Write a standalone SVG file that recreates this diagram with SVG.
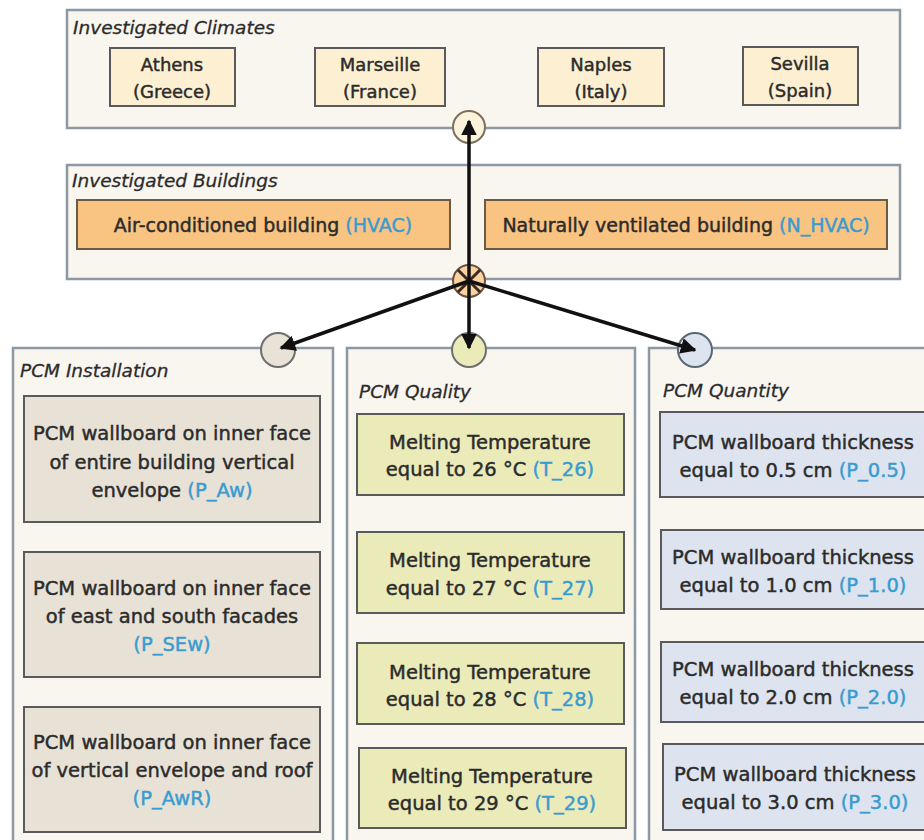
<svg xmlns="http://www.w3.org/2000/svg" width="924" height="840" viewBox="0 0 924 840">
<defs>
<style>
.panel{fill:#f9f5ef;stroke:#8c98a4;stroke-width:2.5}
.title{font-family:"DejaVu Sans","Liberation Sans",sans-serif;font-style:italic;font-size:18.5px;fill:#2b2b2b;stroke:#2b2b2b;stroke-width:0.3}
.t{font-family:"DejaVu Sans","Liberation Sans",sans-serif;font-size:19px;fill:#2b2b2b;stroke:#2b2b2b;stroke-width:0.45;text-anchor:middle}
.tc{font-family:"DejaVu Sans","Liberation Sans",sans-serif;font-size:18px;fill:#2b2b2b;stroke:#2b2b2b;stroke-width:0.45;text-anchor:middle}
.tb{font-family:"DejaVu Sans","Liberation Sans",sans-serif;font-size:19.5px;fill:#2b2b2b;stroke:#2b2b2b;stroke-width:0.45;text-anchor:middle}
.code{fill:#3a9bd0;stroke:#3a9bd0}
.clim{fill:#fdf0d2;stroke:#5a5a5a;stroke-width:2}
.bld{fill:#f9c382;stroke:#6b5a45;stroke-width:2}
.inst{fill:#e8e2d6;stroke:#5a5a5a;stroke-width:2}
.qual{fill:#ebebba;stroke:#5a5a5a;stroke-width:2}
.quan{fill:#dde4ef;stroke:#5a5a5a;stroke-width:2}
.conn line{stroke:#111;stroke-width:3.5;marker-end:url(#arr)}
</style>
<marker id="arr" viewBox="0 0 10 10" refX="9" refY="5" markerWidth="4.5" markerHeight="4.5" orient="auto" markerUnits="strokeWidth">
<path d="M0,0 L10,5 L0,10 z" fill="#111"/>
</marker>
</defs>
<rect width="924" height="840" fill="#ffffff"/>

<g id="climates">
<rect class="panel" x="67" y="10" width="833" height="118"/>
<text class="title" x="73" y="34">Investigated Climates</text>
<g id="athens"><rect class="clim" x="110" y="48" width="125" height="58"/><text class="tc" x="172" y="71">Athens</text><text class="tc" x="172" y="98">(Greece)</text></g>
<g id="marseille"><rect class="clim" x="315" y="48" width="130" height="58"/><text class="tc" x="380" y="71">Marseille</text><text class="tc" x="380" y="98">(France)</text></g>
<g id="naples"><rect class="clim" x="538" y="48" width="126" height="58"/><text class="tc" x="601" y="71">Naples</text><text class="tc" x="601" y="98">(Italy)</text></g>
<g id="sevilla"><rect class="clim" x="743" y="47" width="115" height="58"/><text class="tc" x="800" y="70">Sevilla</text><text class="tc" x="800" y="97">(Spain)</text></g>
<circle id="climates-port" cx="469" cy="127" r="16" fill="#fbf3dc" stroke="#7d6e5e" stroke-width="2"/>
</g>

<g id="buildings">
<rect class="panel" x="67" y="165" width="833" height="114"/>
<text class="title" x="72" y="187">Investigated Buildings</text>
<g id="hvac"><rect class="bld" x="77" y="200" width="373" height="49"/><text class="t" x="263" y="232">Air-conditioned building <tspan class="code">(HVAC)</tspan></text></g>
<g id="nhvac"><rect class="bld" x="485" y="200" width="402" height="49"/><text class="t" x="686" y="232">Naturally ventilated building <tspan class="code">(N_HVAC)</tspan></text></g>
</g>

<g id="installation">
<rect class="panel" x="13" y="348" width="320" height="500"/>
<text class="title" x="20" y="377">PCM Installation</text>
<g id="p_aw"><rect class="inst" x="24" y="396" width="296" height="126"/>
<text class="tb" x="172" y="440">PCM wallboard on inner face</text>
<text class="tb" x="172" y="469">of entire building vertical</text>
<text class="tb" x="172" y="497">envelope <tspan class="code">(P_Aw)</tspan></text></g>
<g id="p_sew"><rect class="inst" x="24" y="552" width="296" height="125"/>
<text class="tb" x="172" y="595">PCM wallboard on inner face</text>
<text class="tb" x="172" y="623">of east and south facades</text>
<text class="tb" x="172" y="651"><tspan class="code">(P_SEw)</tspan></text></g>
<g id="p_awr"><rect class="inst" x="24" y="707" width="296" height="125"/>
<text class="tb" x="172" y="749">PCM wallboard on inner face</text>
<text class="tb" x="172" y="777">of vertical envelope and roof</text>
<text class="tb" x="172" y="805"><tspan class="code">(P_AwR)</tspan></text></g>
<circle id="installation-port" cx="278" cy="350" r="17" fill="#e9e3d7" stroke="#6e6e6e" stroke-width="2"/>
</g>

<g id="quality">
<rect class="panel" x="347" y="348" width="288" height="500"/>
<text class="title" x="359" y="398">PCM Quality</text>
<g id="t26"><rect class="qual" x="357" y="414" width="267" height="81"/>
<text class="tb" x="490" y="449">Melting Temperature</text>
<text class="tb" x="490" y="476">equal to 26 °C <tspan class="code">(T_26)</tspan></text></g>
<g id="t27"><rect class="qual" x="357" y="532" width="267" height="81"/>
<text class="tb" x="490" y="567">Melting Temperature</text>
<text class="tb" x="490" y="595">equal to 27 °C <tspan class="code">(T_27)</tspan></text></g>
<g id="t28"><rect class="qual" x="357" y="643" width="267" height="81"/>
<text class="tb" x="490" y="679">Melting Temperature</text>
<text class="tb" x="490" y="706">equal to 28 °C <tspan class="code">(T_28)</tspan></text></g>
<g id="t29"><rect class="qual" x="359" y="748" width="267" height="80"/>
<text class="tb" x="492" y="783">Melting Temperature</text>
<text class="tb" x="492" y="810">equal to 29 °C <tspan class="code">(T_29)</tspan></text></g>
<circle id="quality-port" cx="469" cy="350" r="17" fill="#ebebba" stroke="#6e6e6e" stroke-width="2"/>
</g>

<g id="quantity">
<rect class="panel" x="649" y="348" width="285" height="500"/>
<text class="title" x="663" y="397">PCM Quantity</text>
<g id="p05"><rect class="quan" x="660" y="412" width="268" height="85"/>
<text class="tb" x="793" y="449">PCM wallboard thickness</text>
<text class="tb" x="793" y="477">equal to 0.5 cm <tspan class="code">(P_0.5)</tspan></text></g>
<g id="p10"><rect class="quan" x="661" y="530" width="268" height="79"/>
<text class="tb" x="793" y="564">PCM wallboard thickness</text>
<text class="tb" x="793" y="592">equal to 1.0 cm <tspan class="code">(P_1.0)</tspan></text></g>
<g id="p20"><rect class="quan" x="661" y="642" width="268" height="80"/>
<text class="tb" x="793" y="676">PCM wallboard thickness</text>
<text class="tb" x="793" y="704">equal to 2.0 cm <tspan class="code">(P_2.0)</tspan></text></g>
<g id="p30"><rect class="quan" x="663" y="744" width="268" height="86"/>
<text class="tb" x="795" y="781">PCM wallboard thickness</text>
<text class="tb" x="795" y="809">equal to 3.0 cm <tspan class="code">(P_3.0)</tspan></text></g>
<circle id="quantity-port" cx="695" cy="350" r="17" fill="#dde4ef" stroke="#5a6878" stroke-width="2"/>
</g>

<g id="hub">
<circle cx="469" cy="281" r="16" fill="#fad3a0" stroke="#6b5040" stroke-width="2"/>
<path d="M458,270 L480,292 M480,270 L458,292" stroke="#3a2a20" stroke-width="3"/>
</g>

<g id="connectors" class="conn">
<line x1="469" y1="281" x2="469" y2="121"/>
<line x1="469" y1="281" x2="469" y2="348"/>
<line x1="469" y1="281" x2="281" y2="348"/>
<line x1="469" y1="281" x2="695" y2="350"/>
</g>
</svg>
